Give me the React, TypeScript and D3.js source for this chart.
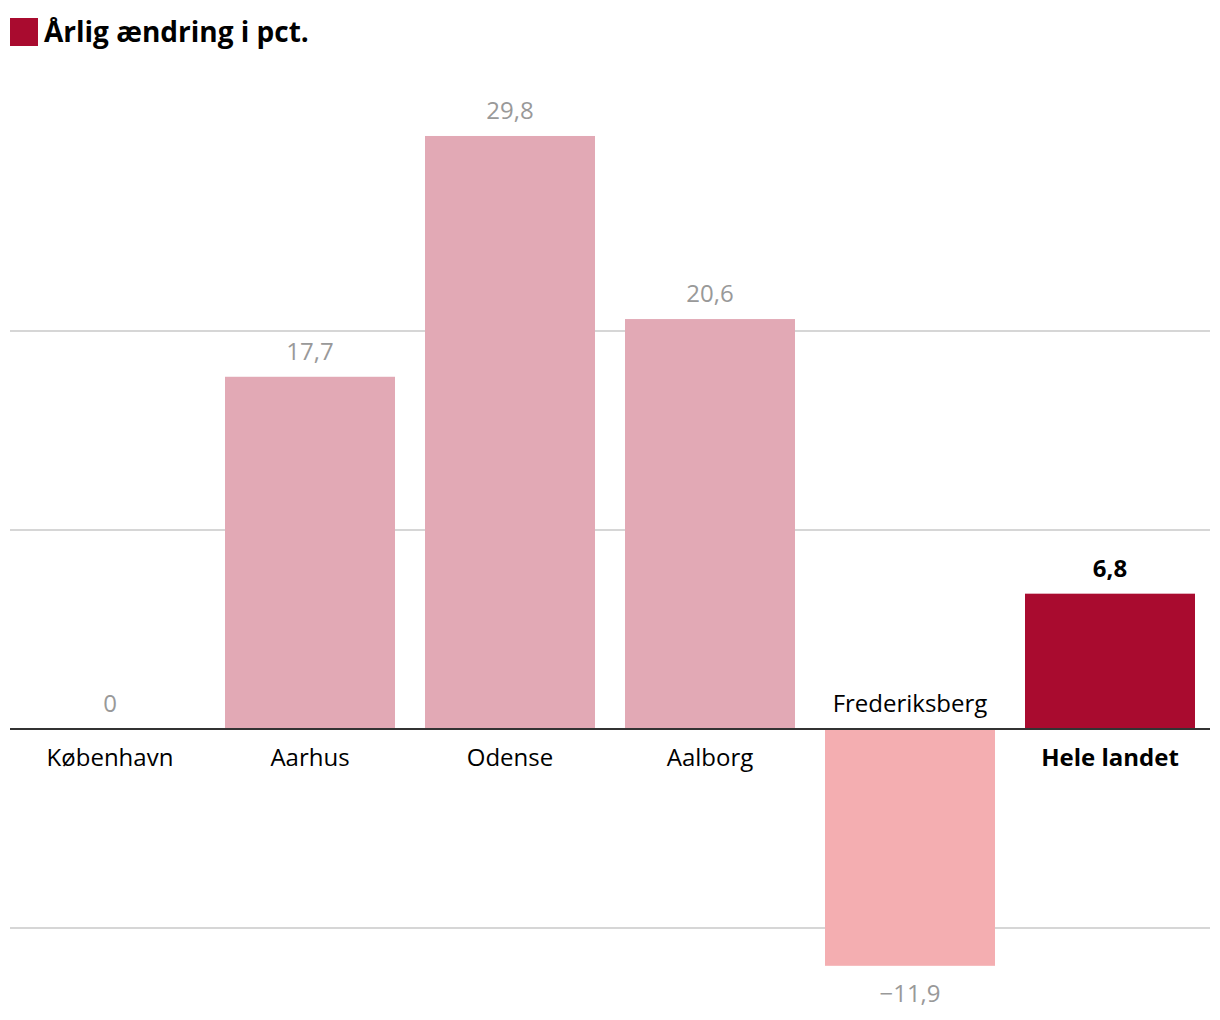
import { useRef, useEffect } from 'react'
import * as d3 from 'd3'

const CATEGORIES = ['København', 'Aarhus', 'Odense', 'Aalborg', 'Frederiksberg', 'Hele landet']
const VALUES = [0, 17.7, 29.8, 20.6, -11.9, 6.8]
const HIGHLIGHT = 'Hele landet'
const GRID_TICKS = [-10, 10, 20]
const TITLE = 'Årlig ændring i pct.'

const W = 1220
const H = 1020
const LEFT = 10
const RIGHT = 1210

const FONT = "'Open Sans', sans-serif"
const POS_COLOR = '#e2a9b5'
const NEG_COLOR = '#f4aeb1'
const ACCENT = '#a90b2f'
const LABEL_GRAY = '#999999'
const GRID = '#c8c8c8'
const ZERO = '#333333'

const fmt = (v: number) => {
  if (v === 0) return '0'
  const s = Math.abs(v).toFixed(1).replace('.', ',')
  return v < 0 ? `\u2212${s}` : s
}

export default function App() {
  const svgRef = useRef<SVGSVGElement>(null)

  useEffect(() => {
    const svg = svgRef.current
    if (!svg) return
    const sel = d3.select(svg)
    sel.selectAll('*').remove()

    const data = CATEGORIES.map((c, i) => ({ cat: c, value: VALUES[i] }))

    const x = d3.scaleBand<string>().domain(CATEGORIES).range([LEFT, RIGHT]).paddingInner(0.15).paddingOuter(0.075)
    const y = d3.scaleLinear().domain([-10, 20]).range([928, 331])

    // title
    sel.append('rect').attr('x', 10).attr('y', 18).attr('width', 28).attr('height', 28).attr('fill', ACCENT)
    sel.append('text')
      .attr('x', 44).attr('y', 42)
      .attr('font-family', FONT).attr('font-weight', 700).attr('font-size', 28)
      .attr('fill', '#000')
      .text(TITLE)

    // gridlines
    sel.append('g')
      .selectAll('line')
      .data(GRID_TICKS)
      .join('line')
      .attr('x1', LEFT).attr('x2', RIGHT)
      .attr('y1', (d) => y(d)).attr('y2', (d) => y(d))
      .attr('stroke', GRID).attr('stroke-width', 1.5)

    // bars
    sel.append('g')
      .selectAll('rect')
      .data(data)
      .join('rect')
      .attr('x', (d) => x(d.cat)!)
      .attr('width', x.bandwidth())
      .attr('y', (d) => y(Math.max(0, d.value)))
      .attr('height', (d) => Math.abs(y(d.value) - y(0)))
      .attr('fill', (d) => (d.cat === HIGHLIGHT ? ACCENT : d.value < 0 ? NEG_COLOR : POS_COLOR))

    // zero line
    sel.append('line')
      .attr('x1', LEFT).attr('x2', RIGHT)
      .attr('y1', y(0)).attr('y2', y(0))
      .attr('stroke', ZERO).attr('stroke-width', 2)

    // value labels
    sel.append('g')
      .selectAll('text')
      .data(data)
      .join('text')
      .attr('x', (d) => x(d.cat)! + x.bandwidth() / 2)
      .attr('y', (d) => (d.value < 0 ? y(d.value) + 36 : y(d.value) - 17))
      .attr('text-anchor', 'middle')
      .attr('font-family', FONT)
      .attr('font-size', 24)
      .attr('font-weight', (d) => (d.cat === HIGHLIGHT ? 700 : 400))
      .attr('fill', (d) => (d.cat === HIGHLIGHT ? '#000' : LABEL_GRAY))
      .text((d) => fmt(d.value))

    // category labels
    sel.append('g')
      .selectAll('text')
      .data(data)
      .join('text')
      .attr('x', (d) => x(d.cat)! + x.bandwidth() / 2)
      .attr('y', (d) => (d.value < 0 ? y(0) - 17 : y(0) + 37))
      .attr('text-anchor', 'middle')
      .attr('font-family', FONT)
      .attr('font-size', 24)
      .attr('font-weight', (d) => (d.cat === HIGHLIGHT ? 700 : 400))
      .attr('fill', '#000')
      .text((d) => d.cat)
  }, [])

  return (
    <svg
      ref={svgRef}
      width={W}
      height={H}
      style={{ position: 'absolute', left: 0, top: 0, display: 'block', background: '#fff' }}
    />
  )
}
